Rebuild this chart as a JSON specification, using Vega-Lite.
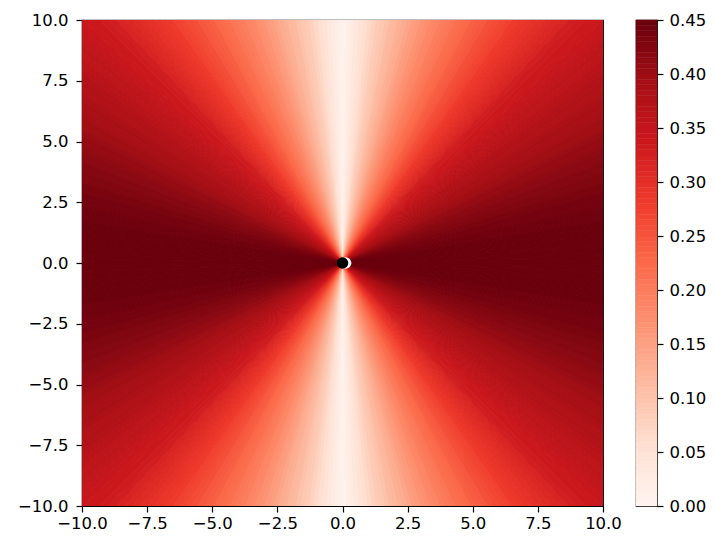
{
 "$schema": "https://vega.github.io/schema/vega-lite/v6.json",
 "padding": {"left": 16, "top": 11, "right": 5, "bottom": 5},
 "background": "white",
 "config": {
  "font": "DejaVu Sans",
  "view": {"stroke": "black", "strokeWidth": 1.2},
  "axis": {"grid": false, "domain": false, "tickColor": "black", "tickSize": 6, "tickWidth": 1.2, "labelFont": "DejaVu Sans", "labelFontSize": 16.5, "labelColor": "black", "labelPadding": 4, "labelFlush": false, "labelOverlap": false}
 },
 "spacing": 33,
 "bounds": "flush",
 "hconcat": [
  {
   "width": 521,
   "height": 486,
   "layer": [
    {
     "data": {"values": [
      {"a":0,"b":1,"v":0.0075},{"a":1,"b":2,"v":0.0175},{"a":2,"b":3,"v":0.0275},{"a":3,"b":4,"v":0.0375},{"a":4,"b":5,"v":0.0475},
      {"a":5,"b":6,"v":0.0575},{"a":6,"b":7,"v":0.0675},{"a":7,"b":8,"v":0.0775},{"a":8,"b":9,"v":0.0875},{"a":9,"b":10,"v":0.0925},
      {"a":10,"b":11,"v":0.1025},{"a":11,"b":12,"v":0.1125},{"a":12,"b":13,"v":0.1175},{"a":13,"b":14,"v":0.1275},{"a":14,"b":15,"v":0.1325},
      {"a":15,"b":16,"v":0.1425},{"a":16,"b":17,"v":0.1525},{"a":17,"b":18,"v":0.1575},{"a":18,"b":19,"v":0.1675},{"a":19,"b":20,"v":0.1725},
      {"a":20,"b":21,"v":0.1825},{"a":21,"b":22,"v":0.1875},{"a":22,"b":23,"v":0.1975},{"a":23,"b":24,"v":0.2025},{"a":24,"b":25,"v":0.2075},
      {"a":25,"b":26,"v":0.2175},{"a":26,"b":27,"v":0.2225},{"a":27,"b":28,"v":0.2275},{"a":28,"b":29,"v":0.2375},{"a":29,"b":30,"v":0.2425},
      {"a":30,"b":31,"v":0.2475},{"a":31,"b":32,"v":0.2575},{"a":32,"b":33,"v":0.2625},{"a":33,"b":34,"v":0.2675},{"a":34,"b":35,"v":0.2725},
      {"a":35,"b":36,"v":0.2825},{"a":36,"b":37,"v":0.2875},{"a":37,"b":38,"v":0.2925},{"a":38,"b":39,"v":0.2975},{"a":39,"b":40,"v":0.3025},
      {"a":40,"b":41,"v":0.3075},{"a":41,"b":42,"v":0.3125},{"a":42,"b":43,"v":0.3175},{"a":43,"b":44,"v":0.3275},{"a":44,"b":45,"v":0.3325},
      {"a":45,"b":46,"v":0.3375},{"a":46,"b":47,"v":0.3375},{"a":47,"b":48,"v":0.3425},{"a":48,"b":49,"v":0.3475},{"a":49,"b":50,"v":0.3525},
      {"a":50,"b":51,"v":0.3575},{"a":51,"b":52,"v":0.3575},{"a":52,"b":53,"v":0.3625},{"a":53,"b":54,"v":0.3675},{"a":54,"b":55,"v":0.3725},
      {"a":55,"b":56,"v":0.3775},{"a":56,"b":57,"v":0.3775},{"a":57,"b":58,"v":0.3825},{"a":58,"b":59,"v":0.3875},{"a":59,"b":60,"v":0.3875},
      {"a":60,"b":61,"v":0.3925},{"a":61,"b":62,"v":0.3975},{"a":62,"b":63,"v":0.3975},{"a":63,"b":64,"v":0.4025},{"a":64,"b":65,"v":0.4075},
      {"a":65,"b":66,"v":0.4075},{"a":66,"b":67,"v":0.4125},{"a":67,"b":68,"v":0.4175},{"a":68,"b":69,"v":0.4175},{"a":69,"b":70,"v":0.4225},
      {"a":70,"b":71,"v":0.4225},{"a":71,"b":72,"v":0.4275},{"a":72,"b":73,"v":0.4275},{"a":73,"b":74,"v":0.4325},{"a":74,"b":75,"v":0.4325},
      {"a":75,"b":76,"v":0.4375},{"a":76,"b":77,"v":0.4375},{"a":77,"b":78,"v":0.4375},{"a":78,"b":79,"v":0.4425},{"a":79,"b":80,"v":0.4425},
      {"a":80,"b":81,"v":0.4425},{"a":81,"b":82,"v":0.4475},{"a":82,"b":83,"v":0.4475},{"a":83,"b":84,"v":0.4475},{"a":84,"b":85,"v":0.4475},
      {"a":85,"b":86,"v":0.4475},{"a":86,"b":87,"v":0.4475},{"a":87,"b":88,"v":0.4475},{"a":88,"b":89,"v":0.4475},{"a":89,"b":90,"v":0.4475}
     ]},
     "encoding": {
      "x": {"datum": 0, "type": "quantitative", "scale": {"domain": [-10, 10], "nice": false, "zero": false}, "axis": {"values": [-10, -7.5, -5, -2.5, 0, 2.5, 5, 7.5, 10], "format": ".1f", "title": null, "labelPadding": 3}},
      "y": {"datum": 0, "type": "quantitative", "scale": {"domain": [-10, 10], "nice": false, "zero": false}, "axis": {"values": [-10, -7.5, -5, -2.5, 0, 2.5, 5, 7.5, 10], "format": ".1f", "title": null, "labelPadding": 8}},
      "theta2": {"field": "b"},
      "fill": {"field": "v", "type": "quantitative", "legend": null, "scale": {"type": "linear", "domain": [0, 0.05625, 0.1125, 0.16875, 0.225, 0.28125, 0.3375, 0.39375, 0.45], "range": ["#fff5f0", "#fee0d2", "#fcbba1", "#fc9272", "#fb6a4a", "#ef3b2c", "#cb181d", "#a50f15", "#67000d"], "interpolate": "rgb"}},
      "stroke": {"field": "v", "type": "quantitative", "legend": null, "scale": {"type": "linear", "domain": [0, 0.05625, 0.1125, 0.16875, 0.225, 0.28125, 0.3375, 0.39375, 0.45], "range": ["#fff5f0", "#fee0d2", "#fcbba1", "#fc9272", "#fb6a4a", "#ef3b2c", "#cb181d", "#a50f15", "#67000d"], "interpolate": "rgb"}}
     },
     "layer": [
      {"mark": {"type": "arc", "clip": true, "radius": 400, "strokeWidth": 1}, "encoding": {"theta": {"field": "a", "type": "quantitative", "stack": null, "scale": {"domain": [0, 360], "range": [0, 6.283185307179586]}}}},
      {"mark": {"type": "arc", "clip": true, "radius": 400, "strokeWidth": 1}, "encoding": {"theta": {"field": "a", "type": "quantitative", "stack": null, "scale": {"domain": [0, 360], "range": [3.141592653589793, -3.141592653589793]}}}},
      {"mark": {"type": "arc", "clip": true, "radius": 400, "strokeWidth": 1}, "encoding": {"theta": {"field": "a", "type": "quantitative", "stack": null, "scale": {"domain": [0, 360], "range": [3.141592653589793, 9.42477796076938]}}}},
      {"mark": {"type": "arc", "clip": true, "radius": 400, "strokeWidth": 1}, "encoding": {"theta": {"field": "a", "type": "quantitative", "stack": null, "scale": {"domain": [0, 360], "range": [6.283185307179586, 0]}}}}
     ],
     "resolve": {"scale": {"theta": "independent"}}
    },
    {
     "data": {"values": [{}]},
     "mark": {"type": "point", "filled": true, "color": "white", "opacity": 1, "size": 135},
     "encoding": {"x": {"datum": 0.12, "type": "quantitative"}, "y": {"datum": 0, "type": "quantitative"}}
    },
    {
     "data": {"values": [{}]},
     "mark": {"type": "point", "filled": true, "color": "black", "opacity": 1, "size": 135},
     "encoding": {"x": {"datum": 0, "type": "quantitative"}, "y": {"datum": 0, "type": "quantitative"}}
    }
   ]
  },
  {
   "width": 21,
   "height": 486,
   "data": {"values": [
    {"lo":0,"hi":0.005,"v":0.0025},{"lo":0.005,"hi":0.01,"v":0.0075},{"lo":0.01,"hi":0.015,"v":0.0125},{"lo":0.015,"hi":0.02,"v":0.0175},{"lo":0.02,"hi":0.025,"v":0.0225},
    {"lo":0.025,"hi":0.03,"v":0.0275},{"lo":0.03,"hi":0.035,"v":0.0325},{"lo":0.035,"hi":0.04,"v":0.0375},{"lo":0.04,"hi":0.045,"v":0.0425},{"lo":0.045,"hi":0.05,"v":0.0475},
    {"lo":0.05,"hi":0.055,"v":0.0525},{"lo":0.055,"hi":0.06,"v":0.0575},{"lo":0.06,"hi":0.065,"v":0.0625},{"lo":0.065,"hi":0.07,"v":0.0675},{"lo":0.07,"hi":0.075,"v":0.0725},
    {"lo":0.075,"hi":0.08,"v":0.0775},{"lo":0.08,"hi":0.085,"v":0.0825},{"lo":0.085,"hi":0.09,"v":0.0875},{"lo":0.09,"hi":0.095,"v":0.0925},{"lo":0.095,"hi":0.1,"v":0.0975},
    {"lo":0.1,"hi":0.105,"v":0.1025},{"lo":0.105,"hi":0.11,"v":0.1075},{"lo":0.11,"hi":0.115,"v":0.1125},{"lo":0.115,"hi":0.12,"v":0.1175},{"lo":0.12,"hi":0.125,"v":0.1225},
    {"lo":0.125,"hi":0.13,"v":0.1275},{"lo":0.13,"hi":0.135,"v":0.1325},{"lo":0.135,"hi":0.14,"v":0.1375},{"lo":0.14,"hi":0.145,"v":0.1425},{"lo":0.145,"hi":0.15,"v":0.1475},
    {"lo":0.15,"hi":0.155,"v":0.1525},{"lo":0.155,"hi":0.16,"v":0.1575},{"lo":0.16,"hi":0.165,"v":0.1625},{"lo":0.165,"hi":0.17,"v":0.1675},{"lo":0.17,"hi":0.175,"v":0.1725},
    {"lo":0.175,"hi":0.18,"v":0.1775},{"lo":0.18,"hi":0.185,"v":0.1825},{"lo":0.185,"hi":0.19,"v":0.1875},{"lo":0.19,"hi":0.195,"v":0.1925},{"lo":0.195,"hi":0.2,"v":0.1975},
    {"lo":0.2,"hi":0.205,"v":0.2025},{"lo":0.205,"hi":0.21,"v":0.2075},{"lo":0.21,"hi":0.215,"v":0.2125},{"lo":0.215,"hi":0.22,"v":0.2175},{"lo":0.22,"hi":0.225,"v":0.2225},
    {"lo":0.225,"hi":0.23,"v":0.2275},{"lo":0.23,"hi":0.235,"v":0.2325},{"lo":0.235,"hi":0.24,"v":0.2375},{"lo":0.24,"hi":0.245,"v":0.2425},{"lo":0.245,"hi":0.25,"v":0.2475},
    {"lo":0.25,"hi":0.255,"v":0.2525},{"lo":0.255,"hi":0.26,"v":0.2575},{"lo":0.26,"hi":0.265,"v":0.2625},{"lo":0.265,"hi":0.27,"v":0.2675},{"lo":0.27,"hi":0.275,"v":0.2725},
    {"lo":0.275,"hi":0.28,"v":0.2775},{"lo":0.28,"hi":0.285,"v":0.2825},{"lo":0.285,"hi":0.29,"v":0.2875},{"lo":0.29,"hi":0.295,"v":0.2925},{"lo":0.295,"hi":0.3,"v":0.2975},
    {"lo":0.3,"hi":0.305,"v":0.3025},{"lo":0.305,"hi":0.31,"v":0.3075},{"lo":0.31,"hi":0.315,"v":0.3125},{"lo":0.315,"hi":0.32,"v":0.3175},{"lo":0.32,"hi":0.325,"v":0.3225},
    {"lo":0.325,"hi":0.33,"v":0.3275},{"lo":0.33,"hi":0.335,"v":0.3325},{"lo":0.335,"hi":0.34,"v":0.3375},{"lo":0.34,"hi":0.345,"v":0.3425},{"lo":0.345,"hi":0.35,"v":0.3475},
    {"lo":0.35,"hi":0.355,"v":0.3525},{"lo":0.355,"hi":0.36,"v":0.3575},{"lo":0.36,"hi":0.365,"v":0.3625},{"lo":0.365,"hi":0.37,"v":0.3675},{"lo":0.37,"hi":0.375,"v":0.3725},
    {"lo":0.375,"hi":0.38,"v":0.3775},{"lo":0.38,"hi":0.385,"v":0.3825},{"lo":0.385,"hi":0.39,"v":0.3875},{"lo":0.39,"hi":0.395,"v":0.3925},{"lo":0.395,"hi":0.4,"v":0.3975},
    {"lo":0.4,"hi":0.405,"v":0.4025},{"lo":0.405,"hi":0.41,"v":0.4075},{"lo":0.41,"hi":0.415,"v":0.4125},{"lo":0.415,"hi":0.42,"v":0.4175},{"lo":0.42,"hi":0.425,"v":0.4225},
    {"lo":0.425,"hi":0.43,"v":0.4275},{"lo":0.43,"hi":0.435,"v":0.4325},{"lo":0.435,"hi":0.44,"v":0.4375},{"lo":0.44,"hi":0.445,"v":0.4425},{"lo":0.445,"hi":0.45,"v":0.4475}
   ]},
   "mark": {"type": "rect", "strokeWidth": 0.5},
   "encoding": {
    "y": {"field": "lo", "type": "quantitative", "scale": {"domain": [0, 0.45], "nice": false, "zero": false}, "axis": {"orient": "right", "values": [0, 0.05, 0.1, 0.15, 0.2, 0.25, 0.3, 0.35, 0.4, 0.45], "format": ".2f", "title": null, "labelPadding": 6}},
    "y2": {"field": "hi"},
    "fill": {"field": "v", "type": "quantitative", "legend": null, "scale": {"type": "linear", "domain": [0, 0.05625, 0.1125, 0.16875, 0.225, 0.28125, 0.3375, 0.39375, 0.45], "range": ["#fff5f0", "#fee0d2", "#fcbba1", "#fc9272", "#fb6a4a", "#ef3b2c", "#cb181d", "#a50f15", "#67000d"], "interpolate": "rgb"}},
    "stroke": {"field": "v", "type": "quantitative", "legend": null, "scale": {"type": "linear", "domain": [0, 0.05625, 0.1125, 0.16875, 0.225, 0.28125, 0.3375, 0.39375, 0.45], "range": ["#fff5f0", "#fee0d2", "#fcbba1", "#fc9272", "#fb6a4a", "#ef3b2c", "#cb181d", "#a50f15", "#67000d"], "interpolate": "rgb"}}
   }
  }
 ]
}
